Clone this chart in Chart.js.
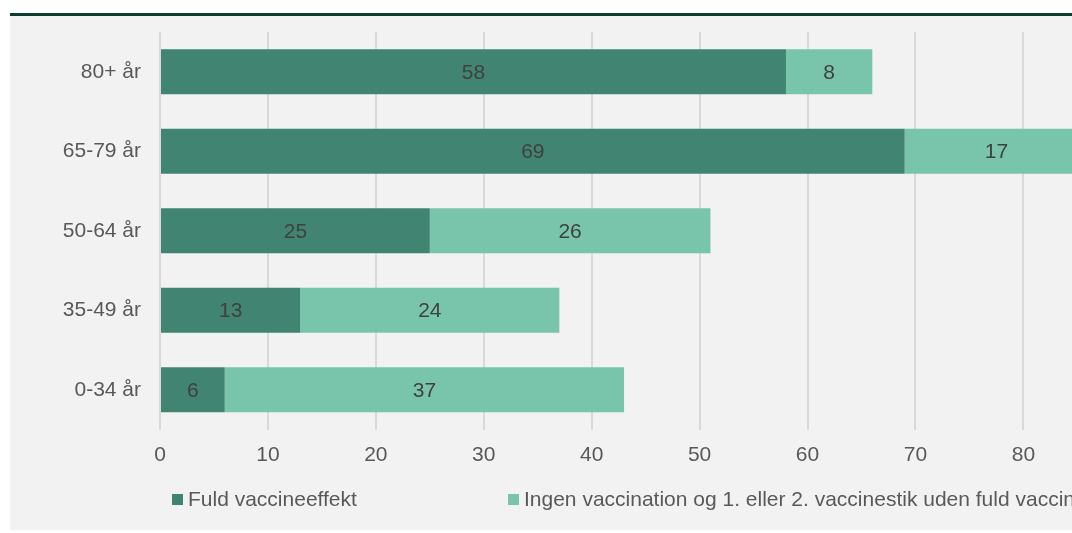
<!DOCTYPE html>
<html>
<head>
<meta charset="utf-8">
<script src="https://cdn.jsdelivr.net/npm/chart.js@4.4.1/dist/chart.umd.min.js"></script>
<style>
    body { margin:0; background:#ffffff; overflow:hidden; font-family:"Liberation Sans", Arial, sans-serif; }
    .topline { position:absolute; left:10px; top:13px; width:1100px; height:3px; background:#0c3b30; }
    .panel { position:absolute; left:10px; top:16px; width:1146px; height:514px; background:#f2f2f2; }
    .wrap { position:absolute; left:0; top:0; width:1146px; height:514px; }
    .legend-item { position:absolute; top:471px; display:flex; align-items:center; white-space:nowrap;
        font-size:21px; color:#595959; }
    .legend-item span.box { display:inline-block; width:11px; height:11px; margin-right:5px; }
</style>
</head>
<body>
<div class="topline"></div>
<div class="panel">
    <div class="wrap"><canvas id="grafica"></canvas></div>
    <div id="legenda"></div>
</div>
<script>
var kategorier = ['80+ år', '65-79 år', '50-64 år', '35-49 år', '0-34 år'];
var fuldEffekt = [58, 69, 25, 13, 6];
var ingenFuld = [8, 17, 26, 24, 37];
var serieNavne = ['Fuld vaccineeffekt', 'Ingen vaccination og 1. eller 2. vaccinestik uden fuld vaccineeffekt'];
var farver = ['#418471', '#79c5ac'];

var FONT = '"Liberation Sans", Arial, sans-serif';

// tal midt i hver bjælke
var barLabelsPlugin = {
    id: 'barLabels',
    afterDatasetsDraw: function(chart) {
        var ctx = chart.ctx;
        ctx.save();
        ctx.fillStyle = '#404040';
        ctx.font = '21px ' + FONT;
        ctx.textAlign = 'center';
        ctx.textBaseline = 'middle';
        chart.data.datasets.forEach(function(ds, di) {
            var meta = chart.getDatasetMeta(di);
            meta.data.forEach(function(bar, i) {
                var p = bar.getCenterPoint();
                ctx.fillText(String(ds.data[i]), p.x, p.y + 1);
            });
        });
        ctx.restore();
    }
};

var ctx = document.getElementById('grafica').getContext('2d');
new Chart(ctx, {
    type: 'bar',
    plugins: [barLabelsPlugin],
    data: {
        labels: kategorier,
        datasets: [
            { label: serieNavne[0], data: fuldEffekt, backgroundColor: farver[0] },
            { label: serieNavne[1], data: ingenFuld, backgroundColor: farver[1] }
        ]
    },
    options: {
        indexAxis: 'y',
        responsive: true,
        maintainAspectRatio: false,
        animation: false,
        datasets: { bar: { categoryPercentage: 1, barPercentage: 0.566 } },
        layout: { padding: { top: 16, right: 20, bottom: 0, left: 0 } },
        scales: {
            x: {
                stacked: true,
                min: 0,
                max: 90,
                afterFit: function(s) { s.height = 100.5; },
                grid: { color: '#d9d9d9', lineWidth: 2, drawTicks: false },
                border: { display: false },
                ticks: { stepSize: 10, padding: 13, color: '#595959', font: { family: FONT, size: 21 } }
            },
            y: {
                stacked: true,
                afterFit: function(s) { s.width = 150; s.paddingTop = 0; s.paddingBottom = 0; },
                grid: { display: false, drawTicks: false },
                border: { display: false },
                ticks: { padding: 19, color: '#595959', font: { family: FONT, size: 21 } }
            }
        },
        plugins: {
            legend: { display: false },
            tooltip: { enabled: false }
        }
    }
});

// legenden
var venstre = [162, 498];
document.getElementById('legenda').innerHTML = serieNavne.map(function(navn, i) {
    return '<div class="legend-item" style="left:' + venstre[i] + 'px;">' +
        '<span class="box" style="background:' + farver[i] + ';"></span>' + navn + '</div>';
}).join('');
</script>
</body>
</html>
